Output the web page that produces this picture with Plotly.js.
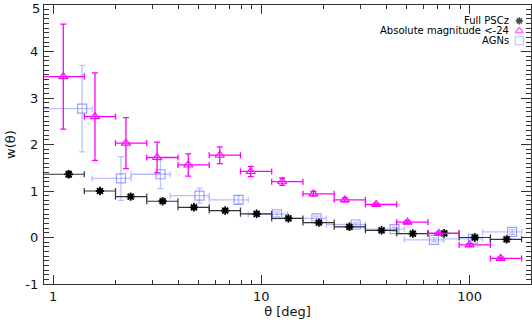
<!DOCTYPE html>
<html><head><meta charset="utf-8">
<script src="https://cdn.plot.ly/plotly-3.0.1.min.js"></script>
<style>html,body{margin:0;padding:0;background:#fff}#c{width:532px;height:326px}</style>
</head><body><div id="c"></div>
<script>
// Full PSCz
const thetaFull = [1.19, 1.68, 2.36, 3.36, 4.75, 6.71, 9.5, 13.5, 18.9, 26.5, 37.8, 53.4, 75.6, 106, 150.6];
const wFull     = [1.36, 1.0, 0.88, 0.78, 0.65, 0.58, 0.51, 0.41, 0.32, 0.23, 0.155, 0.085, 0.09, 0.0, -0.04];
const errFull   = [0.06, 0.04, 0.04, 0.03, 0.03, 0.03, 0.03, 0.03, 0.03, 0.03, 0.03, 0.03, 0.04, 0.04, 0.04];
const binLo15   = [0.5, 1.413, 1.995, 2.818, 3.981, 5.623, 7.943, 11.22, 15.85, 22.39, 31.62, 44.67, 63.1, 89.1, 125.9];
const binHi15   = [1.413, 1.995, 2.818, 3.981, 5.623, 7.943, 11.22, 15.85, 22.39, 31.62, 44.67, 63.1, 89.1, 125.9, 177.8];
// Absolute magnitude < -24
const thetaMag = [1.12, 1.59, 2.24, 3.16, 4.46, 6.32, 8.9, 12.6, 17.8, 25.2, 35.6, 50.3, 71.2, 100, 141];
const wMag     = [3.46, 2.60, 2.03, 1.72, 1.56, 1.77, 1.42, 1.20, 0.94, 0.81, 0.71, 0.33, 0.09, -0.16, -0.45];
const errMag   = [1.13, 0.94, 0.55, 0.33, 0.24, 0.18, 0.11, 0.08, 0.05, 0.04, 0.03, 0.03, 0.03, 0.03, 0.03];
// AGNs
const thetaAgn = [1.38, 2.12, 3.28, 5.05, 7.78, 11.9, 18.4, 28.4, 43.6, 67.4, 103.8, 160];
const wAgn     = [2.77, 1.27, 1.36, 0.90, 0.81, 0.50, 0.41, 0.28, 0.18, -0.05, -0.03, 0.12];
const errAgn   = [0.93, 0.47, 0.31, 0.16, 0.09, 0.05, 0.05, 0.04, 0.04, 0.04, 0.04, 0.05];
const binLo12  = [0.5, 1.540, 2.371, 3.652, 5.623, 8.66, 13.34, 20.54, 31.62, 48.7, 75.0, 115.5];
const binHi12  = [1.540, 2.371, 3.652, 5.623, 8.66, 13.34, 20.54, 31.62, 48.7, 75.0, 115.5, 177.8];
// legend
const legendNames = ['Full PSCz', 'Absolute magnitude <-24', 'AGNs'];
const legendY = [0.943, 0.907, 0.872];
const xTickVals = [1, 10, 100];
const xTickText = ['1', '10', '100'];
const xMinorVals = [2, 3, 4, 5, 6, 7, 8, 9, 20, 30, 40, 50, 60, 70, 80, 90];
const yTickVals = [-1, 0, 1, 2, 3, 4, 5];
const yTickText = ['-1', '0', '1', '2', '3', '4', ''];
const yTopLabel = '5';

const BLACK = '#000000', MAG = '#ff00ff', BLUE = 'rgba(120,130,255,0.75)', BLUE_ERR = 'rgba(140,150,255,0.6)';

function xErr(theta, lo, hi, color, thick) {
  return {type: 'data', symmetric: false,
    array: theta.map((t, i) => hi[i] - t),
    arrayminus: theta.map((t, i) => t - lo[i]),
    color: color, thickness: thick, width: 3};
}

const traces = [
  {x: thetaAgn, y: wAgn, mode: 'markers', type: 'scatter', showlegend: false,
   marker: {symbol: 'square-open', size: 9, color: BLUE, line: {width: 1.2, color: BLUE}},
   error_y: {type: 'data', array: errAgn, color: BLUE_ERR, thickness: 1.3, width: 3},
   error_x: xErr(thetaAgn, binLo12, binHi12, BLUE_ERR, 1.3)},
  {x: thetaFull, y: wFull, mode: 'markers', type: 'scatter', showlegend: false,
   marker: {symbol: 'asterisk', size: 7, color: BLACK, line: {width: 1.8, color: BLACK}},
   error_y: {type: 'data', array: errFull, color: '#333', thickness: 1.2, width: 3},
   error_x: xErr(thetaFull, binLo15, binHi15, '#333', 1.2)},
  {x: thetaMag, y: wMag, mode: 'markers', type: 'scatter', showlegend: false,
   marker: {symbol: 'triangle-up-open', size: 8, color: MAG, line: {width: 1.1, color: MAG}},
   error_y: {type: 'data', array: errMag, color: MAG, thickness: 1.3, width: 3},
   error_x: xErr(thetaMag, binLo15, binHi15, MAG, 1.3)},
  {x: [0.976, 0.976, 0.976], y: legendY, xaxis: 'x2', yaxis: 'y2', mode: 'markers', type: 'scatter',
   showlegend: false, hoverinfo: 'skip',
   marker: {symbol: ['asterisk', 'triangle-up-open', 'square-open'], size: [6, 7, 8],
            color: [BLACK, MAG, BLUE], line: {width: [1.6, 1.1, 1.1], color: [BLACK, MAG, BLUE]}}}
];

const annotations = legendNames.map((t, i) => ({
  text: t, xref: 'paper', yref: 'paper', x: 0.959, y: legendY[i], xanchor: 'right', yanchor: 'middle',
  showarrow: false, font: {family: 'DejaVu Sans', size: 10, color: '#000'}}));
annotations.push({text: yTopLabel, xref: 'paper', yref: 'paper', x: 0, y: 1, xshift: -2, yshift: 6,
  xanchor: 'right', yanchor: 'top', showarrow: false,
  font: {family: 'DejaVu Sans', size: 13, color: '#111'}});

const layout = {
  width: 532, height: 326,
  margin: {l: 44, r: 1, t: 5, b: 42, pad: 0},
  paper_bgcolor: '#fff', plot_bgcolor: '#fff',
  font: {family: 'DejaVu Sans', size: 13, color: '#111'},
  showlegend: false,
  xaxis: {type: 'log', range: [-0.0433, 2.295], tickvals: xTickVals, ticktext: xTickText,
    ticks: 'inside', ticklen: 9, tickwidth: 1, tickcolor: '#333',
    minor: {ticks: 'inside', ticklen: 4, tickvals: xMinorVals, tickcolor: '#333', tickwidth: 1},
    showline: true, linecolor: '#333', linewidth: 1.2, mirror: 'ticks', showgrid: false, zeroline: false,
    automargin: false, tickfont: {size: 13},
    title: {text: 'θ [deg]', font: {size: 13}, standoff: 4}},
  yaxis: {range: [-1, 5], tickvals: yTickVals, ticktext: yTickText,
    ticks: 'inside', ticklen: 10, tickwidth: 1, tickcolor: '#333',
    minor: {ticks: 'inside', ticklen: 5, dtick: 0.1, tick0: 0, tickcolor: '#333', tickwidth: 1},
    showline: true, linecolor: '#333', linewidth: 1.2, mirror: 'ticks', showgrid: false, zeroline: false,
    automargin: false, tickfont: {size: 13}, ticklabelstandoff: 2,
    title: {text: 'w(θ)', font: {size: 13}, standoff: 6}},
  xaxis2: {overlaying: 'x', range: [0, 1], visible: false, fixedrange: true},
  yaxis2: {overlaying: 'y', range: [0, 1], visible: false, fixedrange: true},
  annotations: annotations
};

Plotly.newPlot('c', traces, layout, {displayModeBar: false, staticPlot: true});
</script></body></html>
